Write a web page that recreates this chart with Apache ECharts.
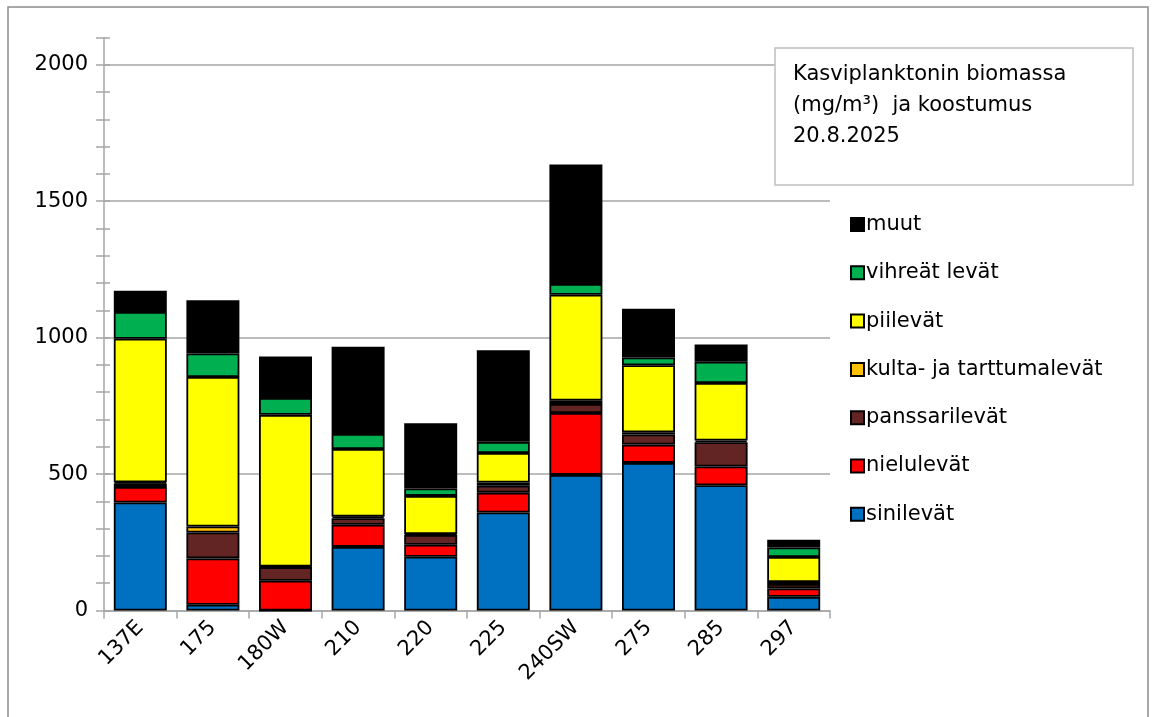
<!DOCTYPE html>
<html>
<head>
<meta charset="utf-8">
<script src="https://cdn.jsdelivr.net/npm/echarts@6/dist/echarts.min.js"></script>
<style>
  html, body { margin: 0; padding: 0; background: #fff; }
  #chart { width: 1155px; height: 717px; }
</style>
</head>
<body>
<div id="chart"></div>
<script>
// Sampling stations
const stations = ['137E', '175', '180W', '210', '220', '225', '240SW', '275', '285', '297'];

// Biomass by group, mg/m³ (stacked bottom to top)
const sinilevat = [396, 21, 0, 233, 197, 359, 497, 541, 459, 50];
const nielulevat = [57, 170, 109, 81, 44, 73, 227, 67, 69, 31];
const panssarilevat = [12, 95, 50, 24, 36, 25, 33, 37, 89, 16];
const kultaJaTarttumalevat = [5, 22, 2, 6, 3, 12, 12, 8, 6, 7];
const piilevat = [526, 548, 556, 248, 140, 108, 388, 246, 211, 92];
const vihreatLevat = [98, 86, 62, 55, 27, 41, 40, 28, 78, 35];
const muut = [78, 195, 152, 320, 239, 336, 438, 179, 63, 28];

// Value axis: minor step 100, labelled/gridded every 500
const yMin = 0;
const yMax = 2100;
const yMinorStep = 100;
const yMajorStep = 500;

const groups = [
  { name: 'sinilevät', data: sinilevat, color: '#0070C0' },
  { name: 'nielulevät', data: nielulevat, color: '#FF0000' },
  { name: 'panssarilevät', data: panssarilevat, color: '#632523' },
  { name: 'kulta- ja tarttumalevät', data: kultaJaTarttumalevat, color: '#FFC000' },
  { name: 'piilevät', data: piilevat, color: '#FFFF00' },
  { name: 'vihreät levät', data: vihreatLevat, color: '#00B050' },
  { name: 'muut', data: muut, color: '#000000' }
];

const FONT = '"DejaVu Sans", "Open Sans", sans-serif';
const GRID_GRAY = '#A6A6A6';

// Split lines only at the labelled steps: colour cycles once per minor tick
const perMajor = yMajorStep / yMinorStep;
const splitColors = [GRID_GRAY];
for (let i = 1; i < perMajor; i++) splitColors.push('rgba(0,0,0,0)');

const chart = echarts.init(document.getElementById('chart'), null, { renderer: 'canvas' });

const option = {
  backgroundColor: '#ffffff',
  animation: false,
  textStyle: { fontFamily: FONT },
  grid: { left: 104, right: 325, top: 37.5, bottom: 106.5, containLabel: false },
  legend: {
    orient: 'vertical',
    left: 845,
    top: 209,
    icon: 'rect',
    itemWidth: 13,
    itemHeight: 13,
    itemGap: 27.3,
    data: groups.map(g => g.name).reverse(),
    textStyle: { fontFamily: FONT, fontSize: 21, color: '#000', lineHeight: 20, padding: [0, 0, 0, -3] },
    selectedMode: false
  },
  xAxis: {
    type: 'category',
    data: stations,
    boundaryGap: true,
    axisLine: { lineStyle: { color: GRID_GRAY, width: 1.5 } },
    axisTick: { show: true, length: 8, lineStyle: { color: GRID_GRAY, width: 1.5 } },
    axisLabel: { rotate: 45, margin: 14, fontFamily: FONT, fontSize: 21, color: '#000', interval: 0 },
    splitLine: { show: false }
  },
  yAxis: [
    {
      type: 'value',
      min: yMin,
      max: yMax,
      interval: yMinorStep,
      axisLine: { show: true, lineStyle: { color: GRID_GRAY, width: 1.5 } },
      axisTick: { show: true, length: 8, lineStyle: { color: GRID_GRAY, width: 1.5 } },
      axisLabel: {
        margin: 16,
        fontFamily: FONT,
        fontSize: 21,
        color: '#000',
        formatter: v => (v % yMajorStep === 0 ? String(v) : '')
      },
      splitLine: { show: true, lineStyle: { color: splitColors, width: 1.5 } }
    },
    {
      // inner half of the cross-style minor ticks
      type: 'value',
      min: yMin,
      max: yMax,
      interval: yMinorStep,
      position: 'left',
      axisLine: { show: false },
      axisTick: { show: true, inside: true, length: 6, lineStyle: { color: GRID_GRAY, width: 1.5 } },
      axisLabel: { show: false },
      splitLine: { show: false }
    }
  ],
  series: groups.map(g => ({
    name: g.name,
    type: 'bar',
    stack: 'biomassa',
    yAxisIndex: 0,
    barWidth: '73%',
    data: g.data,
    itemStyle: { color: g.color, borderColor: '#000', borderWidth: 1.8 },
    emphasis: { disabled: true }
  })),
  graphic: [
    {
      type: 'rect',
      shape: { x: 8, y: 7, width: 1140, height: 740 },
      style: { fill: 'none', stroke: '#8C8C8C', lineWidth: 1.5 },
      silent: true,
      z: -10
    },
    {
      type: 'rect',
      shape: { x: 775, y: 48, width: 358, height: 137 },
      style: { fill: '#fff', stroke: '#BFBFBF', lineWidth: 1.5 },
      silent: true,
      z: 10
    },
    {
      type: 'text',
      left: 793,
      top: 59,
      silent: true,
      z: 11,
      style: {
        text: 'Kasviplanktonin biomassa\n(mg/m³)  ja koostumus\n20.8.2025',
        fontFamily: FONT,
        fontSize: 21,
        lineHeight: 31,
        fill: '#000'
      }
    }
  ]
};

chart.setOption(option);
</script>
</body>
</html>
